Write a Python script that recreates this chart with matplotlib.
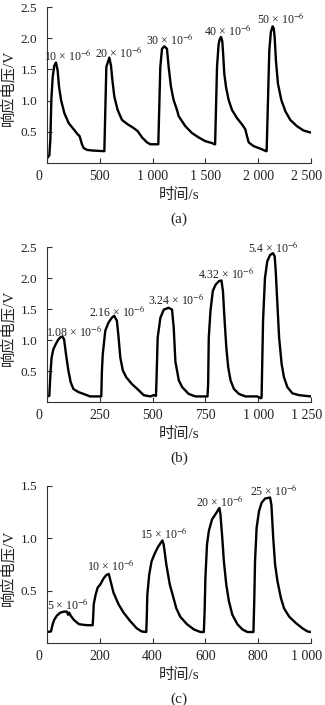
import matplotlib
matplotlib.use("Agg")
import matplotlib.pyplot as plt
from matplotlib.transforms import ScaledTranslation

plt.rcParams['font.family'] = ['Liberation Serif', 'Noto Sans CJK SC']
plt.rcParams['mathtext.fontset'] = 'stix'

# (a) response to 10..50 x 10^-6
t_a = [0, 6, 22, 32, 41, 54, 69, 85, 101, 114, 133, 164, 205, 253, 290, 309, 331, 347, 379, 430, 537,
       543, 562, 590, 606, 619, 638, 669, 710, 764, 821, 859, 900, 947, 979, 1048,
       1054, 1073, 1089, 1111, 1136, 1152, 1174, 1199, 1231, 1247, 1310, 1373, 1436, 1499, 1562, 1588,
       1592, 1610, 1625, 1635, 1648, 1660, 1666, 1679, 1695, 1720, 1752, 1799, 1846, 1878, 1894, 1910, 1957, 2020, 2074,
       2080, 2105, 2120, 2137, 2148, 2156, 2168, 2187, 2219, 2257, 2304, 2367, 2430, 2494]
v_a = [0.07, 0.09, 0.12, 0.38, 1.01, 1.38, 1.56, 1.61, 1.48, 1.22, 1.01, 0.80, 0.64, 0.54, 0.46, 0.43, 0.30, 0.24, 0.21, 0.20, 0.19,
       0.19, 1.54, 1.69, 1.56, 1.33, 1.06, 0.85, 0.69, 0.62, 0.56, 0.51, 0.41, 0.33, 0.30, 0.30,
       0.30, 1.54, 1.83, 1.87, 1.83, 1.54, 1.22, 1.01, 0.85, 0.75, 0.59, 0.48, 0.41, 0.35, 0.32, 0.30,
       0.30, 1.54, 1.90, 1.98, 2.02, 1.95, 1.80, 1.43, 1.22, 1.01, 0.85, 0.72, 0.62, 0.54, 0.43, 0.33, 0.27, 0.23, 0.19,
       0.19, 1.80, 2.10, 2.19, 2.15, 2.01, 1.64, 1.27, 1.01, 0.83, 0.69, 0.59, 0.52, 0.49]
lab_a = ['10', '20', '30', '40', '50']
lab_a_t = [200, 678, 1168, 1710, 2216]
lab_a_v = [1.72, 1.77, 1.98, 2.12, 2.31]

# (b) response to 1.08..5.4 x 10^-6
t_b = [0, 11, 17, 22, 30, 41, 54, 65, 74, 81, 90, 101, 112, 125, 149, 173, 204, 236, 257,
       260, 264, 276, 291, 307, 318, 331, 339, 347, 359, 375, 402, 434, 458, 489, 505, 516,
       518, 524, 537, 553, 576, 592, 600, 608, 624, 640, 671, 703, 760,
       763, 766, 774, 785, 798, 814, 826, 833, 841, 849, 858, 869, 885, 909, 940, 996, 1012,
       1016, 1023, 1032, 1043, 1056, 1070, 1078, 1083, 1091, 1099, 1111, 1122, 1138, 1162, 1194, 1249]
v_b = [0.09, 0.10, 0.50, 0.72, 0.85, 0.93, 1.01, 1.05, 1.05, 1.01, 0.77, 0.51, 0.32, 0.21, 0.16, 0.13, 0.09, 0.09, 0.09,
       0.50, 0.77, 1.15, 1.28, 1.36, 1.39, 1.31, 1.04, 0.72, 0.51, 0.40, 0.29, 0.19, 0.11, 0.09, 0.11, 0.10,
       0.30, 1.04, 1.36, 1.49, 1.52, 1.49, 1.20, 0.65, 0.35, 0.24, 0.13, 0.09, 0.09,
       0.30, 1.04, 1.47, 1.79, 1.89, 1.95, 1.96, 1.79, 1.31, 0.88, 0.56, 0.35, 0.21, 0.13, 0.09, 0.09, 0.06,
       0.07, 1.31, 2.00, 2.27, 2.37, 2.40, 2.35, 2.11, 1.57, 1.04, 0.61, 0.40, 0.24, 0.14, 0.11, 0.09]
lab_b = ['1.08', '2.16', '3.24', '4.32', '5.4']
lab_b_t = [127, 333, 611, 849, 1071]
lab_b_v = [1.13, 1.46, 1.66, 2.07, 2.50]

# (c) response to 5..25 x 10^-6
t_c = [0, 15, 21, 27, 37, 50, 65, 75, 80, 84, 90, 102, 121, 134, 152, 173,
       175, 177, 184, 192, 202, 215, 225, 234, 240, 252, 271, 290, 315, 340, 359, 376,
       378, 380, 387, 396, 409, 421, 437, 442, 452, 465, 477, 490, 505, 530, 556, 581, 594,
       597, 600, 606, 613, 625, 638, 653, 657, 664, 670, 679, 689, 702, 721, 740, 759, 782,
       785, 788, 794, 803, 813, 826, 845, 850, 857, 864, 873, 886, 898, 918, 943, 968, 987, 1000]
v_c = [0.105, 0.11, 0.175, 0.22, 0.26, 0.29, 0.30, 0.30, 0.27, 0.29, 0.26, 0.22, 0.18, 0.175, 0.17, 0.17,
       0.25, 0.37, 0.46, 0.53, 0.56, 0.62, 0.65, 0.66, 0.60, 0.48, 0.37, 0.29, 0.21, 0.14, 0.11, 0.105,
       0.25, 0.46, 0.65, 0.78, 0.86, 0.92, 0.98, 0.94, 0.75, 0.56, 0.45, 0.33, 0.25, 0.18, 0.13, 0.105, 0.105,
       0.30, 0.62, 0.94, 1.07, 1.18, 1.23, 1.29, 1.23, 1.00, 0.78, 0.56, 0.40, 0.27, 0.18, 0.13, 0.105, 0.105,
       0.40, 0.78, 1.10, 1.26, 1.34, 1.38, 1.39, 1.32, 1.00, 0.75, 0.59, 0.43, 0.33, 0.25, 0.19, 0.14, 0.11, 0.105]
lab_c = ['5', '10', '15', '20', '25']
lab_c_t = [78, 243, 443, 654, 859]
lab_c_v = [0.37, 0.745, 1.05, 1.35, 1.455]

xticks_a = [0, 500, 1000, 1500, 2000, 2500]
xticks_b = [0, 250, 500, 750, 1000, 1250]
xticks_c = [0, 200, 400, 600, 800, 1000]
yticks_ab = [0.5, 1.0, 1.5, 2.0, 2.5]
yticks_c = [0.5, 1.0, 1.5]

W, H = 325, 705
fig = plt.figure(figsize=(W / 100, H / 100), dpi=100)
ink = '#222222'


def nudge(label, dx_px):
    label.set_transform(label.get_transform() + ScaledTranslation(dx_px / 100, 0, fig.dpi_scale_trans))


def panel(top_px, bot_px, t, v, xticks, yticks, labs, lab_t, lab_v, cap):
    left, right = 47, 311
    ax = fig.add_axes([left / W, 1 - bot_px / H, (right - left) / W, (bot_px - top_px) / H])
    ax.plot(t, v, color='black', lw=1.7, solid_joinstyle='round')
    ax.set_xlim(0, xticks[-1])
    ax.set_ylim(0, yticks[-1])
    ax.set_xticks(xticks)
    ax.set_xticklabels([f'{x:,}'.replace(',', ' ') for x in xticks])
    ax.set_yticks(yticks)
    ax.set_yticklabels([f'{y:.1f}' for y in yticks])
    for s in ['top', 'right']:
        ax.spines[s].set_visible(False)
    for s in ['left', 'bottom']:
        ax.spines[s].set_color('#333333')
        ax.spines[s].set_linewidth(0.8)
    ax.tick_params(direction='in', length=3.5, width=0.8, colors='#333333', labelcolor=ink)
    ax.tick_params(axis='y', pad=7, labelsize=9.5)
    ax.tick_params(axis='x', pad=5, labelsize=10)
    xl = ax.get_xticklabels()
    nudge(xl[0], -8)
    nudge(xl[-1], -4)
    for s, x, y in zip(labs, lab_t, lab_v):
        ax.text(x, y, s + r' × 10$^{-6}$', ha='center', va='center', fontsize=8.5, color=ink)
    ax.set_ylabel('响应电压/V', fontsize=11, color=ink)
    ax.yaxis.set_label_coords(-0.12, 0.48)
    ax.set_xlabel('时间/s', fontsize=11, color=ink, va='center')
    ax.xaxis.set_label_coords(0.5, -(32 / (bot_px - top_px)))
    fig.text((left + right) / 2 / W, 1 - (bot_px + 56) / H, cap, ha='center', va='center',
             fontsize=11, color=ink)
    return ax


panel(7, 163, t_a, v_a, xticks_a, yticks_ab, lab_a, lab_a_t, lab_a_v, '(a)')
panel(247, 402, t_b, v_b, xticks_b, yticks_ab, lab_b, lab_b_t, lab_b_v, '(b)')
panel(486, 643, t_c, v_c, xticks_c, yticks_c, lab_c, lab_c_t, lab_c_v, '(c)')

fig.savefig('out.png', dpi=100)
